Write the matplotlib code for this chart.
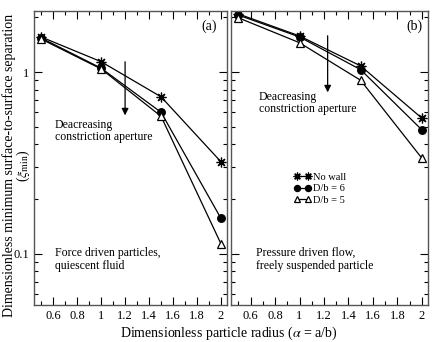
import numpy as np
import matplotlib
matplotlib.use('Agg')
import matplotlib.pyplot as plt
from matplotlib.ticker import LogLocator, NullFormatter, FixedLocator

plt.rcParams['font.family'] = ['Liberation Serif', 'DejaVu Serif']
plt.rcParams['mathtext.fontset'] = 'stix'

# --- data ---
radius = [0.5, 1.0, 1.5, 2.0]

# (a) force driven particles, quiescent fluid
a_nowall = [1.56, 1.14, 0.73, 0.32]
a_db6 = [1.54, 1.05, 0.60, 0.156]
a_db5 = [1.52, 1.04, 0.57, 0.113]

# (b) pressure driven flow, freely suspended particle
b_nowall = [2.09, 1.58, 1.08, 0.557]
b_db6 = [2.06, 1.56, 1.03, 0.48]
b_db5 = [1.99, 1.45, 0.90, 0.335]

series_labels = ['No wall', 'D/b = 6', 'D/b = 5']
xtick_vals = [0.6, 0.8, 1.0, 1.2, 1.4, 1.6, 1.8, 2.0]
xtick_labels = ['0.6', '0.8', '1', '1.2', '1.4', '1.6', '1.8', '2']

# marker styles: asterisk, filled circle, open triangle
styles = [
    dict(marker=(8, 2, 0), markersize=7, markerfacecolor='black'),
    dict(marker='o', markersize=5.5, markerfacecolor='black'),
    dict(marker='^', markersize=6, markerfacecolor='white'),
]

fig = plt.figure(figsize=(4.43, 3.42), dpi=100)
ax_a = fig.add_axes([0.0767, 0.108, 0.4357, 0.860])
ax_b = fig.add_axes([0.5214, 0.108, 0.4447, 0.860], sharey=ax_a)


def draw_panel(ax, data):
    for ys, lab, st in zip(data, series_labels, styles):
        ax.plot(radius, ys, color='black', lw=0.9, markeredgecolor='black',
                markeredgewidth=0.9, label=lab, **st)
    ax.set_yscale('log')
    ax.set_xlim(0.44, 2.05)
    ax.set_ylim(0.052, 2.17)
    ax.set_xticks(xtick_vals)
    ax.set_xticklabels(xtick_labels)
    ax.xaxis.set_minor_locator(FixedLocator(np.arange(0.5, 2.05, 0.1)))
    ax.yaxis.set_major_locator(LogLocator(base=10))
    ax.yaxis.set_minor_locator(LogLocator(base=10, subs=np.arange(2, 10)))
    ax.yaxis.set_minor_formatter(NullFormatter())
    ax.tick_params(which='both', direction='in', top=True, right=True,
                   labelsize=9)
    ax.tick_params(which='major', length=6, width=0.8)
    ax.tick_params(which='minor', length=3, width=0.8)
    for sp in ax.spines.values():
        sp.set_linewidth(1.0)
        sp.set_color('#555555')


draw_panel(ax_a, [a_nowall, a_db6, a_db5])
draw_panel(ax_b, [b_nowall, b_db6, b_db5])
ax_a.set_yticks([0.1, 1])
ax_a.set_yticklabels(['0.1', '1'])
plt.setp(ax_b.get_yticklabels(), visible=False)

# panel tags
ax_a.text(0.907, 0.949, '(a)', transform=ax_a.transAxes, ha='center', va='center', fontsize=10)
ax_b.text(0.929, 0.949, '(b)', transform=ax_b.transAxes, ha='center', va='center', fontsize=10)

# arrows
arrow = dict(arrowstyle='-|>', color='black', lw=0.9, mutation_scale=10)
ax_a.annotate('', xy=(1.2, 0.557), xytext=(1.2, 1.18), arrowprops=arrow)
ax_b.annotate('', xy=(1.23, 0.746), xytext=(1.23, 1.64), arrowprops=arrow)

ax_a.text(0.109, 0.633, 'Deacreasing\nconstriction aperture', transform=ax_a.transAxes,
          ha='left', va='top', fontsize=8.5, linespacing=1.05)
ax_b.text(0.142, 0.728, 'Deacreasing\nconstriction aperture', transform=ax_b.transAxes,
          ha='left', va='top', fontsize=8.5, linespacing=1.05)

ax_a.text(0.109, 0.197, 'Force driven particles,\nquiescent fluid', transform=ax_a.transAxes,
          ha='left', va='top', fontsize=8.5, linespacing=1.05)
ax_b.text(0.127, 0.197, 'Pressure driven flow,\nfreely suspended particle', transform=ax_b.transAxes,
          ha='left', va='top', fontsize=8.5, linespacing=1.05)

ax_b.legend(loc='upper left', bbox_to_anchor=(0.32, 0.45), frameon=False, fontsize=7.5,
            numpoints=2, handlelength=1.6, handletextpad=0.2, labelspacing=0.2,
            markerscale=0.8, borderpad=0.0, borderaxespad=0.0)

fig.text(0.517, 0.026, r'Dimensionless particle radius ($\alpha$ = a/b)', ha='center',
         va='center', fontsize=10)
fig.text(0.021, 0.515, 'Dimensionless minimum surface-to-surface separation',
         rotation=90, ha='center', va='center', fontsize=10)
fig.text(0.052, 0.515, r'($\xi_{\mathrm{min}}$)', rotation=90, ha='center', va='center',
         fontsize=10)

fig.savefig('out.png', dpi=100)
